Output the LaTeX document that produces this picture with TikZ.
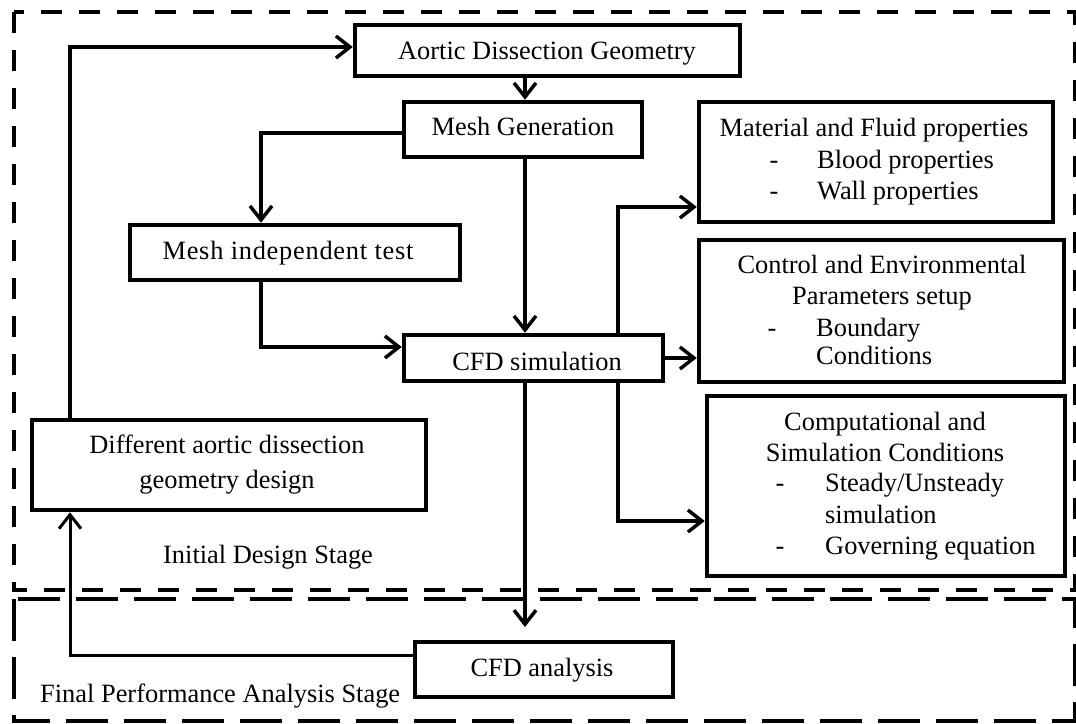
\documentclass[tikz,border=0pt]{standalone}
\usepackage{fontspec}
\setmainfont{Liberation Serif}
\usetikzlibrary{arrows.meta}
\tikzset{
  box/.style={draw, line width=4.5pt, fill=white, inner sep=0pt, rectangle},
  txt/.style={anchor=base, inner sep=0pt, font=\fontsize{26.4}{31}\selectfont},
  txtl/.style={anchor=base west, inner sep=0pt, font=\fontsize{26.4}{31}\selectfont},
  arr/.style={line width=3.5pt, -{Straight Barb[length=14pt,width=22pt]}},
  thinarr/.style={line width=3pt, -{Straight Barb[length=14pt,width=22pt]}},
  stageA/.style={line width=4.5pt, dash pattern=on 21pt off 17pt},
  stageB/.style={line width=4.5pt, dash pattern=on 42pt off 16pt},
}
\begin{document}
\begin{tikzpicture}[x=1pt,y=-1pt]
\useasboundingbox (0,0) rectangle (1076,723);

% stage frames
\draw[stageA] (14,12) rectangle (1075,590);
\draw[stageB] (14,599) rectangle (1075,721);
\node[txtl] (lblA) at (163,563) {Initial Design Stage};
\node[txtl] (lblB) at (40,702) {Final Performance Analysis Stage};

% boxes
\node[box, minimum width=385pt, minimum height=51pt] (aortic) at (547.5,50.5) {};
\node[box, minimum width=238pt, minimum height=55pt] (mesh) at (523,129.5) {};
\node[box, minimum width=330pt, minimum height=55pt] (indep) at (295,252.5) {};
\node[box, minimum width=259pt, minimum height=46pt] (cfd) at (533.5,358) {};
\node[box, minimum width=354pt, minimum height=120pt] (mat) at (876,162) {};
\node[box, minimum width=365pt, minimum height=142pt] (ctrl) at (881.5,311) {};
\node[box, minimum width=358pt, minimum height=180pt] (comp) at (886,486) {};
\node[box, minimum width=394pt, minimum height=90pt] (diff) at (229,465) {};
\node[box, minimum width=258pt, minimum height=55pt] (ana) at (544,669.5) {};

% texts
\node[txt] (t1) at (547,59) {Aortic Dissection Geometry};
\node[txt] (t2) at (523,135) {Mesh Generation};
\node[txt] (t3) at (288,259) {\addfontfeature{LetterSpace=2.8}Mesh independent test};
\node[txt] (t4) at (537,370) {CFD simulation};
\node[txt] (t5) at (227,453) {Different aortic dissection};
\node[txt] (t6) at (227,488) {geometry design};
\node[txt] (t7) at (542,676) {CFD analysis};

\node[txt] (m1) at (874,136) {Material and Fluid properties};
\node[txt] (m2) at (774,168) {-};
\node[txtl] (m3) at (817,168) {Blood properties};
\node[txt] (m4) at (774,199) {-};
\node[txtl] (m5) at (817,199) {Wall properties};

\node[txt] (c1t) at (882,273) {Control and Environmental};
\node[txt] (c2t) at (882,304) {Parameters setup};
\node[txt] (c3t) at (772,336) {-};
\node[txtl] (c4t) at (816,336) {Boundary};
\node[txtl] (c5t) at (816,364) {Conditions};

\node[txt] (s1) at (885,430) {Computational and};
\node[txt] (s2) at (885,461) {Simulation Conditions};
\node[txt] (s3) at (780,491) {-};
\node[txtl] (s4) at (825,491) {Steady/Unsteady};
\node[txtl] (s5) at (825,523) {simulation};
\node[txt] (s6) at (780,554) {-};
\node[txtl] (s7) at (825,554) {Governing equation};

% connector bends
\coordinate (k1) at (70,47);
\coordinate (k2) at (261,133);
\coordinate (k3) at (261,347);
\coordinate (k4) at (525,0);
\coordinate (k5) at (618,207);
\coordinate (k6) at (618,521);
\coordinate (k7) at (525,627);
\coordinate (k8) at (70,655);

\draw[arr] (k1 |- diff.north) -- (k1) -- (k1 -| aortic.west);
\draw[arr] (aortic.south -| k4) -- (mesh.north -| k4);
\draw[arr] (mesh.west |- k2) -- (k2) -- (k2 |- indep.north);
\draw[arr] (k3 |- indep.south) -- (k3) -- (k3 -| cfd.west);
\draw[arr] (mesh.south -| k4) -- (cfd.north -| k4);
\draw[arr] (cfd.north -| k5) -- (k5) -- (k5 -| mat.west);
\draw[arr] (cfd.east) -- (cfd.east -| ctrl.west);
\draw[arr] (cfd.south -| k6) -- (k6) -- (k6 -| comp.west);
\draw[arr] (cfd.south -| k7) -- (k7);
\draw[thinarr] (ana.west |- k8) -- (k8) -- (k8 |- diff.south);
\end{tikzpicture}
\end{document}
